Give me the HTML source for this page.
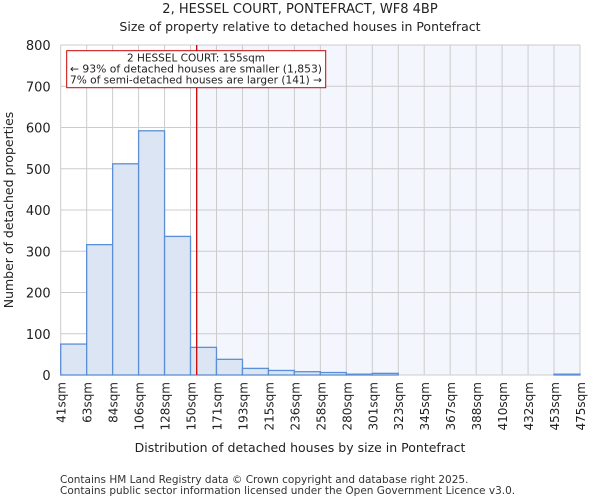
<!DOCTYPE html>
<html><head><meta charset="utf-8"><style>
body{margin:0;background:#fff;font-family:"DejaVu Sans","Liberation Sans",sans-serif;}
svg{display:block}
</style></head><body>
<svg id="c" width="600" height="500" font-family="DejaVu Sans, Liberation Sans, sans-serif">
<text x="300" y="13" text-anchor="middle" font-size="13" fill="#222">2, HESSEL COURT, PONTEFRACT, WF8 4BP</text>
<text x="300" y="31" text-anchor="middle" font-size="12.5" fill="#222">Size of property relative to detached houses in Pontefract</text>
<g id="plot"></g>
<text x="300" y="452" text-anchor="middle" font-size="12.5" fill="#222">Distribution of detached houses by size in Pontefract</text>
<text transform="translate(13,210) rotate(-90)" text-anchor="middle" font-size="12.5" fill="#222">Number of detached properties</text>
<text x="60" y="483" font-size="10.5" fill="#333">Contains HM Land Registry data © Crown copyright and database right 2025.</text>
<text x="60" y="494" font-size="10.5" fill="#333">Contains public sector information licensed under the Open Government Licence v3.0.</text>
</svg>
<script>
const binLabels=["41sqm","63sqm","84sqm","106sqm","128sqm","150sqm","171sqm","193sqm","215sqm","236sqm","258sqm","280sqm","301sqm","323sqm","345sqm","367sqm","388sqm","410sqm","432sqm","453sqm","475sqm"];
const binEdges=[41,63,84,106,128,150,171,193,215,236,258,280,301,323,345,367,388,410,432,453,475];
const counts=[75,316,512,592,336,67,38,16,11,8,6,2,4,0,0,0,0,0,0,2];
const yTicks=[0,100,200,300,400,500,600,700,800];
const marker=155;
const X0=60.7,X1=580,Y0=375,Y1=45,YMAX=800;
const ns="http://www.w3.org/2000/svg";
const g=document.getElementById('plot');
const nb=counts.length,bw=(X1-X0)/nb;
function xi(i){return X0+i*bw;}
function xv(v){let i=0;while(i<binEdges.length-2&&v>binEdges[i+1])i++;return xi(i)+(v-binEdges[i])/(binEdges[i+1]-binEdges[i])*bw;}
function y(v){return Y0-(v/YMAX)*(Y0-Y1);}
function mk(t,a){const e=document.createElementNS(ns,t);for(const k in a)e.setAttribute(k,a[k]);g.appendChild(e);return e;}
const mx=xv(marker);
let bg=mk('rect',{x:mx,y:Y1,width:X1-mx,height:Y0-Y1,fill:'#f3f6fd'});


for(let i=0;i<=nb;i++){let l=mk('line',{x1:xi(i),x2:xi(i),y1:Y1,y2:Y0,stroke:'#cccccc','stroke-width':1});

}
yTicks.forEach(t=>{let l=mk('line',{x1:X0,x2:X1,y1:y(t),y2:y(t),stroke:'#cccccc','stroke-width':1});


let tx=mk('text',{x:X0-10,y:y(t)+5,'text-anchor':'end','font-size':'13',fill:'#222'});tx.textContent=t;

});
counts.forEach((c,i)=>{if(c<=0)return;let r=mk('rect',{x:xi(i),y:y(c),width:bw,height:Y0-y(c),fill:'#dbe5f4',stroke:'#5b8fd6','stroke-width':1.3});

});
binLabels.forEach((s,i)=>{let tx=mk('text',{transform:`translate(${xi(i)+5},382) rotate(-90)`,'text-anchor':'end','font-size':'12',fill:'#222'});tx.textContent=s;

});
let ml=mk('line',{x1:mx,x2:mx,y1:Y1,y2:Y0,stroke:'#cc0000','stroke-width':1.3});


let bx=mk('rect',{x:66.7,y:50.7,width:259,height:37,fill:'#fff',stroke:'#cc0000','stroke-width':1});


const lines=["2 HESSEL COURT: 155sqm","← 93% of detached houses are smaller (1,853)","7% of semi-detached houses are larger (141) →"];
lines.forEach((s,i)=>{let tx=mk('text',{x:196,y:61.5+i*11,'text-anchor':'middle','font-size':'10.5',fill:'#222'});tx.textContent=s;
if(i>0){tx.setAttribute('textLength','252');tx.setAttribute('lengthAdjust','spacingAndGlyphs');}

});
</script>
</body></html>
